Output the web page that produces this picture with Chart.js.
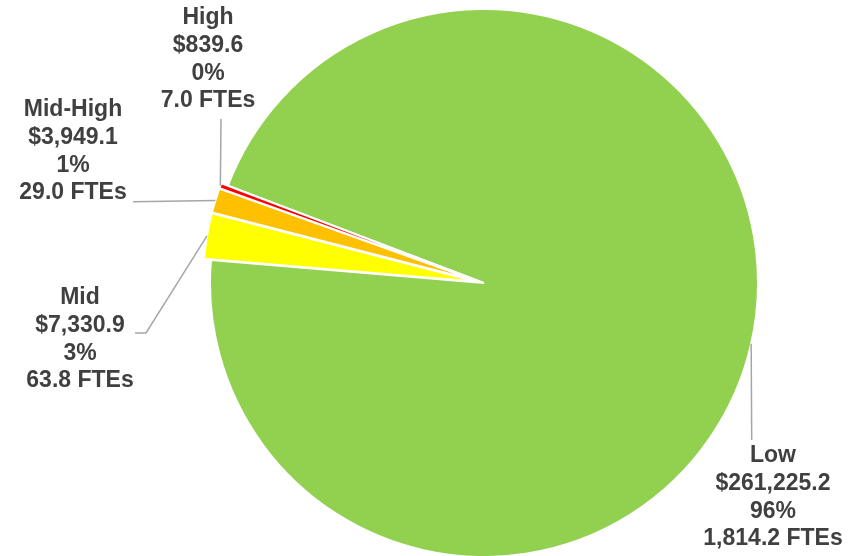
<!DOCTYPE html>
<html><head><meta charset="utf-8">
<script src="https://cdn.jsdelivr.net/npm/chart.js@4.4.1/dist/chart.umd.min.js"></script>
<style>html,body{margin:0;padding:0;background:#fff;}#wrap{width:853px;height:556px;}</style>
</head><body><div id="wrap"><canvas id="c" width="853" height="556"></canvas></div>
<script>
const categories = ['Low', 'Mid', 'Mid-High', 'High'];
const dollars = [261225.2, 7330.9, 3949.1, 839.6];
const ftes = [1814.2, 63.8, 29.0, 7.0];
const sliceColors = ['#92D050', '#FFFF00', '#FFC000', '#FF0000'];

const total = dollars.reduce((a, b) => a + b, 0);
const fmt1 = v => v.toLocaleString('en-US', {minimumFractionDigits: 1, maximumFractionDigits: 1});

function shiftFor(arc, d) {
  const mid = (arc.startAngle + arc.endAngle) / 2;
  return [Math.cos(mid) * d, Math.sin(mid) * d];
}

const explodePlugin = {
  id: 'explode',
  beforeDatasetsDraw(chart, args, opts) {
    const meta = chart.getDatasetMeta(0);
    meta.data.forEach((arc, i) => {
      const d = opts.distances[i] || 0;
      const [sx, sy] = shiftFor(arc, d);
      arc._sx = sx; arc._sy = sy;
      arc.x += sx; arc.y += sy;
    });
  },
  afterDatasetsDraw(chart) {
    const meta = chart.getDatasetMeta(0);
    meta.data.forEach(arc => { arc.x -= arc._sx || 0; arc.y -= arc._sy || 0; });
  }
};

const labelPlugin = {
  id: 'sliceLabels',
  afterDraw(chart, args, opts) {
    const ctx = chart.ctx;
    const meta = chart.getDatasetMeta(0);
    const dist = chart.options.plugins.explode.distances;
    ctx.save();
    meta.data.forEach((arc, i) => {
      const L = opts.layout[i];
      const [sx, sy] = shiftFor(arc, dist[i] || 0);
      const mid = (arc.startAngle + arc.endAngle) / 2;
      const R = arc.outerRadius;
      const ex = arc.x + sx + Math.cos(mid) * R;
      const ey = arc.y + sy + Math.sin(mid) * R;
      // leader line
      ctx.strokeStyle = opts.lineColor;
      ctx.lineWidth = 1.5;
      ctx.beginPath();
      ctx.moveTo(L.line[0][0], L.line[0][1]);
      for (let k = 1; k < L.line.length; k++) ctx.lineTo(L.line[k][0], L.line[k][1]);
      ctx.lineTo(ex, ey);
      ctx.stroke();
      // text
      const lines = [
        categories[i],
        '$' + fmt1(dollars[i]),
        Math.round(dollars[i] / total * 100) + '%',
        fmt1(ftes[i]) + ' FTEs'
      ];
      ctx.fillStyle = opts.color;
      ctx.font = opts.font;
      ctx.textAlign = 'center';
      ctx.textBaseline = 'middle';
      lines.forEach((t, k) => ctx.fillText(t, L.cx, L.y0 + k * opts.lineHeight));
    });
    ctx.restore();
  }
};

new Chart(document.getElementById('c'), {
  type: 'pie',
  data: {
    labels: categories,
    datasets: [{
      data: dollars,
      backgroundColor: sliceColors,
      borderColor: '#FFFFFF',
      borderWidth: 2,
      radius: 274
    }]
  },
  options: {
    responsive: false,
    animation: false,
    rotation: -69.2,
    layout: {padding: {left: 115, right: 0, top: 10, bottom: 0}},
    plugins: {
      legend: {display: false},
      tooltip: {enabled: false},
      explode: {distances: [0, 7, 7, 7]},
      sliceLabels: {
        color: '#404040',
        lineColor: '#A6A6A6',
        font: 'bold 23px "Liberation Sans", Arial, sans-serif',
        lineHeight: 27.6,
        layout: [
          {cx: 773, y0: 456, line: [[751.7, 440]]},
          {cx: 80, y0: 298, line: [[135, 333], [146, 333]]},
          {cx: 73, y0: 110, line: [[133, 201.7]]},
          {cx: 208, y0: 18, line: [[221, 119]]}
        ]
      }
    }
  },
  plugins: [explodePlugin, labelPlugin]
});
</script></body></html>
